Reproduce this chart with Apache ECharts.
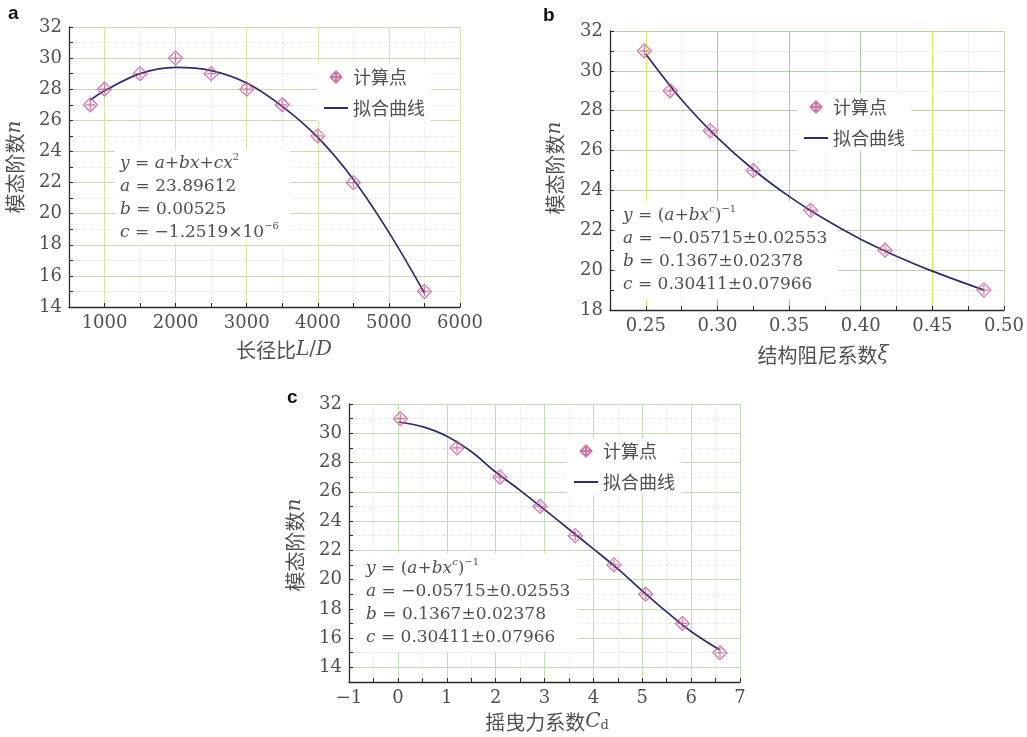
<!DOCTYPE html>
<html>
<head>
<meta charset="utf-8">
<script src="https://cdn.jsdelivr.net/npm/echarts@6/dist/echarts.min.js"></script>
<style>
  html, body { margin: 0; padding: 0; background: #ffffff; }
  #chart { width: 1027px; height: 737px; }
</style>
</head>
<body>
<div id="chart"></div>
<script>
// ---- Panel a: mode order versus aspect ratio L/D ----
const ratioLD = [800, 1000, 1500, 2000, 2500, 3000, 3500, 4000, 4500, 5500];
const modesA  = [27, 28, 29, 30, 29, 28, 27, 25, 22, 15];
const fitXA   = [800, 1000, 1500, 2000, 2500, 3000, 3500, 4000, 4500, 5000, 5500];
const fitYA   = [27.3, 27.9, 29.0, 29.4, 29.2, 28.4, 26.9, 24.9, 22.2, 18.8, 14.9];

// ---- Panel b: mode order versus structural damping ratio ----
const dampingXi = [0.249, 0.267, 0.295, 0.325, 0.365, 0.417, 0.486];
const modesB    = [31, 29, 27, 25, 23, 21, 19];
const fitXB     = [0.25, 0.275, 0.30, 0.325, 0.35, 0.375, 0.40, 0.425, 0.45, 0.486];
const fitYB     = [30.85, 28.55, 26.65, 25.05, 23.7, 22.55, 21.55, 20.7, 19.95, 19.0];

// ---- Panel c: mode order versus drag coefficient Cd ----
const dragCd = [0.05, 1.21, 2.09, 2.91, 3.63, 4.42, 5.07, 5.82, 6.59];
const modesC = [31, 29, 27, 25, 23, 21, 19, 17, 15];
const fitXC  = [0.02, 0.5, 1.0, 1.5, 2.0, 2.5, 3.0, 3.5, 4.0, 4.5, 5.0, 5.5, 6.0, 6.58];
const fitYC  = [30.77, 30.45, 29.8, 28.75, 27.35, 26.1, 24.78, 23.44, 22.1, 20.73, 19.23, 17.79, 16.45, 15.2];

// ---- Tick labels ----
const labelsXA = [1000, 2000, 3000, 4000, 5000, 6000];
const labelsYA = [14, 16, 18, 20, 22, 24, 26, 28, 30, 32];
const labelsXB = [0.25, 0.30, 0.35, 0.40, 0.45, 0.50];
const labelsYB = [18, 20, 22, 24, 26, 28, 30, 32];
const labelsXC = [-1, 0, 1, 2, 3, 4, 5, 6, 7];
const labelsYC = [14, 16, 18, 20, 22, 24, 26, 28, 30, 32];

const seriesNames = ['计算点', '拟合曲线'];

// ---- Styling ----
const SERIF = 'DejaVu Serif';
const CJK = 'Noto Sans CJK SC';
const TXT = '#505050';
const T = 'rgba(0,0,0,0)';
const MINOR = '#e2e6df';
const AX = '#2b2b2b';
const MARK = 'path://M10,0L20,10L10,20L0,10Z M10,3L10,17 M3,10L17,10';

function near(v, list) { return list.some(l => Math.abs(l - v) < 1e-7); }
function zip(xs, ys) { return xs.map((x, i) => [x, ys[i]]); }

function mainAxis(grid, pos, min, max, step, labels, fmt, colors) {
  return {
    type: 'value', gridIndex: grid, position: pos, min: min, max: max, interval: step,
    axisLine: { show: true, onZero: false, lineStyle: { color: AX, width: 1.3 } },
    axisTick: { show: true, inside: true, length: 4, lineStyle: { color: AX, width: 1 } },
    axisLabel: {
      show: true, margin: 7,
      color: TXT, fontFamily: SERIF, fontSize: 18, fontWeight: 'normal',
      showMinLabel: true, showMaxLabel: true,
      formatter: v => near(v, labels) ? fmt(v) : ''
    },
    splitLine: { show: true, lineStyle: { color: colors, width: 1 } },
    z: 1
  };
}
function minorAxis(grid, pos, min, max, step, colors) {
  return {
    type: 'value', gridIndex: grid, position: pos, min: min, max: max, interval: step,
    axisLine: { show: false }, axisTick: { show: false }, axisLabel: { show: false },
    splitLine: { show: true, lineStyle: { color: colors, width: 1, type: 'dotted' } },
    z: 0
  };
}

const fmtInt = v => String(Math.round(v));
const fmtB = v => v.toFixed(2);
const fmtC = v => v < 0 ? '\u2212' + Math.abs(v) : String(v);

// grid line colours
const VA = '#d6e6a6', HA = '#c6dcae';
const YB = '#d6e963', GB = '#a9c7a0', LB = '#c4dab0', HB = '#b6cfad';
const VC = '#c2dfb3', HC = '#c2dfb3';

const xAxes = [
  mainAxis(0, 'bottom', 500, 6000, 500, labelsXA, fmtInt, [T, VA]),
  minorAxis(0, 'bottom', 500, 6000, 500, [MINOR, T]),
  mainAxis(1, 'bottom', 0.225, 0.5, 0.025, labelsXB, fmtB, [T, YB, T, GB, T, GB, T, GB, T, YB, T, LB]),
  minorAxis(1, 'bottom', 0.225, 0.5, 0.025, [T, T, MINOR, T, MINOR, T, MINOR, T, MINOR, T, MINOR, T]),
  mainAxis(2, 'bottom', -1, 7, 0.5, labelsXC, fmtC, [VC, T]),
  minorAxis(2, 'bottom', -1, 7, 0.5, [T, MINOR])
];
const yAxes = [
  mainAxis(0, 'left', 14, 32, 1, labelsYA, fmtInt, [HA, T]),
  minorAxis(0, 'left', 14, 32, 1, [T, MINOR]),
  mainAxis(1, 'left', 18, 32, 1, labelsYB, fmtInt, [HB, T]),
  minorAxis(1, 'left', 18, 32, 1, [T, MINOR]),
  mainAxis(2, 'left', 13, 32, 1, labelsYC, fmtInt, [T, HC]),
  minorAxis(2, 'left', 13, 32, 1, [MINOR, T])
];

function fitSeries(axis, xs, ys) {
  return {
    type: 'line', name: seriesNames[1], xAxisIndex: axis, yAxisIndex: axis,
    data: zip(xs, ys), symbol: 'none', smooth: 0.35,
    lineStyle: { color: '#2f2c6e', width: 1.7 },
    // keeps the legend entry a plain line sample
    itemStyle: { color: T, borderWidth: 0 },
    z: 3, silent: true
  };
}
function pointSeries(axis, xs, ys) {
  return {
    type: 'scatter', name: seriesNames[0], xAxisIndex: axis, yAxisIndex: axis,
    data: zip(xs, ys), symbol: MARK, symbolSize: 14, symbolKeepAspect: true,
    itemStyle: { color: T, borderColor: '#c94f8b', borderWidth: 1.2 }, z: 4
  };
}

function legendAt(left, top) {
  return {
    left: left, top: top, orient: 'vertical', padding: [4, 6],
    itemWidth: 24, itemHeight: 11, itemGap: 13,
    backgroundColor: '#ffffff', selectedMode: false,
    textStyle: { fontFamily: CJK, fontSize: 18, color: TXT },
    data: seriesNames
  };
}

const rich = {
  i:  { fontFamily: SERIF, fontStyle: 'italic', fontSize: 17, fill: TXT, color: TXT, lineHeight: 23 },
  n:  { fontFamily: SERIF, fontSize: 17, fill: TXT, color: TXT, lineHeight: 23 },
  s:  { fontFamily: SERIF, fontSize: 10, fill: TXT, color: TXT, verticalAlign: 'top' },
  si: { fontFamily: SERIF, fontStyle: 'italic', fontSize: 10, fill: TXT, color: TXT, verticalAlign: 'top' }
};

function eqBox(rx, ry, rw, rh, tx, ty, lines) {
  return [
    { type: 'rect', shape: { x: rx, y: ry, width: rw, height: rh }, style: { fill: '#ffffff' }, z: 2, silent: true },
    { type: 'text', x: tx, y: ty, z: 2, silent: true,
      style: { text: lines.join('\n'), fontFamily: SERIF, fontSize: 17, lineHeight: 23, fill: TXT, rich: rich } }
  ];
}

const titleRich = {
  i:   { fontFamily: SERIF, fontStyle: 'italic', fontSize: 20, fill: TXT, color: TXT },
  n:   { fontFamily: SERIF, fontSize: 20, fill: TXT, color: TXT },
  sub: { fontFamily: SERIF, fontSize: 13, fill: TXT, color: TXT, verticalAlign: 'bottom' }
};
function title(x, y, text, rotated) {
  return {
    type: 'text', x: x, y: y, rotation: rotated ? Math.PI / 2 : 0, silent: true, z: 2,
    style: { text: text, fontFamily: CJK, fontSize: 20, fill: TXT, align: 'center', verticalAlign: 'middle', rich: titleRich }
  };
}
function panelTag(x, y, t) {
  return { type: 'text', x: x, y: y, silent: true, z: 2,
    style: { text: t, fontFamily: 'Liberation Sans', fontWeight: 'bold', fontSize: 19, fill: '#111111' } };
}

const eqQuad = [
  '{i|y} = {i|a}+{i|bx}+{i|cx}{s|2}',
  '{i|a} = 23.89612',
  '{i|b} = 0.00525',
  '{i|c} = \u22121.2519\u00d710{s|\u22126}'
];
const eqPow = [
  '{i|y} = ({i|a}+{i|bx}{si|c}){s|\u22121}',
  '{i|a} = \u22120.05715\u00b10.02553',
  '{i|b} = 0.1367\u00b10.02378',
  '{i|c} = 0.30411\u00b10.07966'
];

const option = {
  backgroundColor: '#ffffff',
  animation: false,
  textStyle: { fontFamily: SERIF, fontSize: 18, color: TXT },
  grid: [
    { left: 69, top: 27, width: 391, height: 280 },
    { left: 610, top: 31, width: 397, height: 279 },
    { left: 349, top: 404, width: 391, height: 278 }
  ],
  xAxis: xAxes,
  yAxis: yAxes,
  legend: [legendAt(317, 64), legendAt(797, 94), legendAt(567, 438)],
  series: [
    fitSeries(0, fitXA, fitYA), pointSeries(0, ratioLD, modesA),
    fitSeries(2, fitXB, fitYB), pointSeries(2, dampingXi, modesB),
    fitSeries(4, fitXC, fitYC), pointSeries(4, dragCd, modesC)
  ],
  graphic: [
    ...eqBox(115, 150, 175, 92, 120, 152, eqQuad),
    ...eqBox(616, 201, 222, 98, 623, 204, eqPow),
    ...eqBox(356, 553, 222, 99, 366, 557, eqPow),
    title(284, 350, '长径比{i|L}{n|/}{i|D}', false),
    title(15, 167, '模态阶数{i|n}', true),
    title(823, 355, '结构阻尼系数{i|ξ}', false),
    title(555, 168, '模态阶数{i|n}', true),
    title(547, 722, '摇曳力系数{i|C}{sub|d}', false),
    title(295, 545, '模态阶数{i|n}', true),
    panelTag(8, 4, 'a'),
    panelTag(543, 6, 'b'),
    panelTag(287, 388, 'c')
  ]
};

const chart = echarts.init(document.getElementById('chart'));
chart.setOption(option);
</script>
</body>
</html>
